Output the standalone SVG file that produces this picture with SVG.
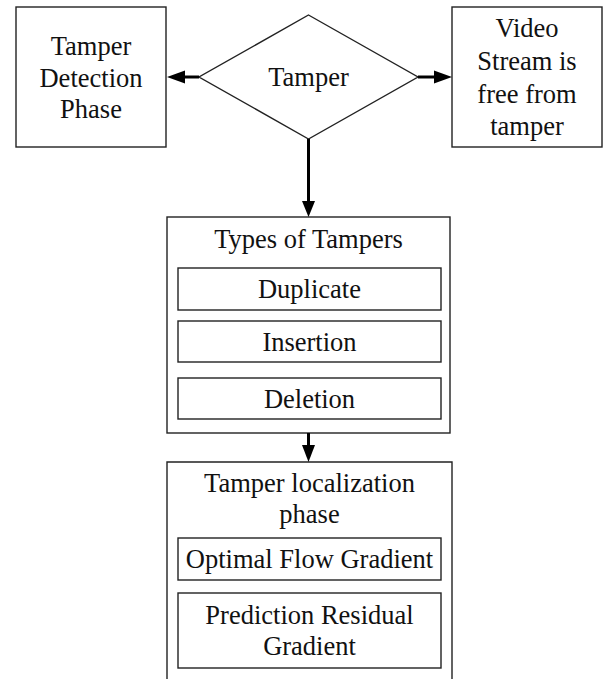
<svg xmlns="http://www.w3.org/2000/svg" width="606" height="679" viewBox="0 0 606 679">
<style>
.box{fill:#fff;stroke:#222;stroke-width:1.4}
.t{font-family:"Liberation Serif","Times New Roman",serif;font-size:26.5px;fill:#111;text-anchor:middle}
.c{stroke:#000;stroke-width:3;fill:none}
.h{fill:#000;stroke:none}
</style>
<rect width="606" height="679" fill="#fff"/>
<g id="tamper-detection">
<rect class="box" x="16" y="7" width="150" height="140"/>
<text class="t" x="91" y="55">Tamper</text>
<text class="t" x="91" y="87">Detection</text>
<text class="t" x="91" y="118">Phase</text>
</g>
<g id="tamper-decision">
<polygon class="box" points="308.5,15 418,77 308.5,139 199,77"/>
<text class="t" x="308.5" y="86">Tamper</text>
</g>
<g id="video-free">
<rect class="box" x="452" y="7" width="150" height="140"/>
<text class="t" x="527" y="37">Video</text>
<text class="t" x="527" y="70">Stream is</text>
<text class="t" x="527" y="103">free from</text>
<text class="t" x="527" y="135">tamper</text>
</g>
<g id="types-of-tampers">
<rect class="box" x="167" y="217" width="283" height="216"/>
<text class="t" x="308.5" y="248">Types of Tampers</text>
<rect class="box" x="178" y="268" width="263" height="42"/>
<text class="t" x="309.5" y="298">Duplicate</text>
<rect class="box" x="178" y="321" width="263" height="41"/>
<text class="t" x="309.5" y="351">Insertion</text>
<rect class="box" x="178" y="378" width="263" height="41"/>
<text class="t" x="309.5" y="408">Deletion</text>
</g>
<g id="tamper-localization">
<path class="box" d="M167,690 V462 H452 V690"/>
<text class="t" x="309.5" y="492">Tamper localization</text>
<text class="t" x="309.5" y="523">phase</text>
<rect class="box" x="178" y="538" width="263" height="42"/>
<text class="t" x="309.5" y="568">Optimal Flow Gradient</text>
<rect class="box" x="178" y="593" width="263" height="75"/>
<text class="t" x="309.5" y="624">Prediction Residual</text>
<text class="t" x="309.5" y="655">Gradient</text>
</g>
<g id="connectors">
<line class="c" x1="199" y1="77" x2="182" y2="77"/>
<polygon class="h" points="167,77 185,70.5 185,83.5"/>
<line class="c" x1="418" y1="77" x2="437" y2="77"/>
<polygon class="h" points="452,77 434,70.5 434,83.5"/>
<line class="c" x1="308.5" y1="139" x2="308.5" y2="203"/>
<polygon class="h" points="308.5,217 302,201 315,201"/>
<line class="c" x1="308.5" y1="433" x2="308.5" y2="448"/>
<polygon class="h" points="308.5,462 302,445 315,445"/>
</g>
</svg>
